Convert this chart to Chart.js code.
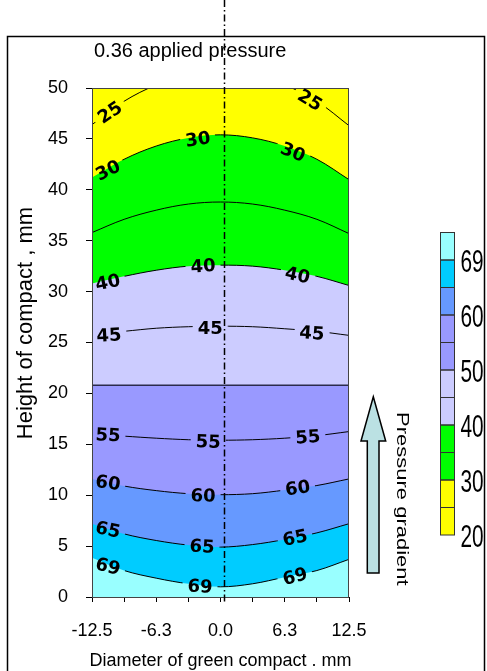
<!DOCTYPE html>
<html>
<head>
<meta charset="utf-8">
<script src="https://cdn.jsdelivr.net/npm/chart.js@4.4.1/dist/chart.umd.min.js"></script>
<style>
  html, body { margin: 0; padding: 0; background: #fff; }
  canvas { display: block; }
</style>
</head>
<body>
<canvas id="contourChart" width="487" height="671"></canvas>
<script>
// Sample positions across the compact diameter (mm)
const xSamples = [-12.5, -9.375, -6.25, -3.125, 0, 3.125, 6.25, 9.375, 12.5];

// Iso-pressure lines: height (mm) at each sample
const level69 = [3.85, 2.6, 1.85, 1.3, 1.0, 1.3, 1.95, 2.6, 3.7];
const level65 = [7.2, 6.2, 5.55, 5.1, 4.9, 5.15, 5.65, 6.3, 7.2];
const level60 = [11.6, 10.9, 10.45, 10.15, 10.05, 10.15, 10.5, 10.95, 11.6];
const level55 = [16.0, 15.8, 15.6, 15.45, 15.4, 15.45, 15.6, 15.85, 16.25];
const level50 = [20.8, 20.8, 20.8, 20.8, 20.8, 20.8, 20.8, 20.8, 20.8];
const level45 = [25.8, 26.1, 26.4, 26.55, 26.6, 26.55, 26.35, 26.1, 25.7];
const level40 = [30.8, 31.5, 32.1, 32.5, 32.6, 32.5, 32.1, 31.5, 30.6];
const level35 = [35.8, 37.1, 38.0, 38.6, 38.8, 38.6, 38.0, 37.1, 35.7];
const level30 = [41.2, 43.0, 44.3, 45.1, 45.4, 45.1, 44.3, 43.0, 41.0];
const level25 = [46.4, 48.7, 50.3, 51.3, 51.6, 51.3, 50.3, 48.7, 46.3];

const levelValues = [69, 65, 60, 55, 50, 45, 40, 35, 30, 25];
const levelLines = [level69, level65, level60, level55, level50, level45, level40, level35, level30, level25];
// colour of the band below each line (null = same band on both sides)
const bandColors = ['#99FFFF', '#00CCFF', '#6699FF', null, '#9999FF', null, '#CCCCFF', null, '#00FF00', null];
const topBandColor = '#FFFF00';

// Inline contour labels: text, x, y, angle (deg)
const contourLabels = [
    ['25', -10.75, 47.6, -34], ['25', 8.7, 48.8, 32],
    ['30', -10.95, 41.9, -26], ['30', -2.2, 44.95, -8], ['30', 7.05, 43.7, 22],
    ['40', -10.95, 30.9, -12], ['40', -1.7, 32.5, -4], ['40', 7.5, 31.6, 13],
    ['45', -10.85, 25.7, -3], ['45', -1.0, 26.4, 0], ['45', 8.9, 25.9, 4],
    ['55', -10.95, 15.9, 3], ['55', -1.2, 15.25, 2], ['55', 8.5, 15.7, -4],
    ['60', -10.95, 11.2, 8], ['60', -1.7, 9.95, 1], ['60', 7.5, 10.7, -8],
    ['65', -10.95, 6.6, 12], ['65', -1.8, 4.95, 3], ['65', 7.25, 5.8, -12],
    ['69', -10.95, 3.0, 14], ['69', -2.0, 1.03, 3], ['69', 7.25, 2.0, -15]
];

// Axis ticks
const xTicks = [-12.5, -9.375, -6.25, -3.125, 0, 3.125, 6.25, 9.375, 12.5];
const xTickLabels = ['-12.5', '', '-6.3', '', '0.0', '', '6.3', '', '12.5'];

// Colour bar
const barLevels = [20, 25, 30, 35, 40, 45, 50, 55, 60, 65, 69];
const barColors = ['#FFFF00', '#FFFF00', '#00FF00', '#00FF00', '#CCCCFF', '#CCCCFF', '#9999FF', '#9999FF', '#6699FF', '#00CCFF', '#99FFFF'];
const barTickLabels = ['20', '30', '40', '50', '60', '69'];

const FONT = '"Liberation Sans", Arial, sans-serif';

const datasets = levelValues.map((v, i) => ({
    label: String(v),
    level: v,
    data: xSamples.map((x, j) => ({ x: x, y: levelLines[i][j] })),
    borderColor: v === 50 ? '#2b2b4d' : '#000',
    borderWidth: v === 50 ? 1.5 : 1,
    backgroundColor: bandColors[i] || 'transparent',
    fill: bandColors[i] ? 'start' : false,
    tension: 0.35,
    pointRadius: 0
}));

const decor = {
    id: 'decor',
    beforeDraw(chart) {
        const { ctx, chartArea: a } = chart;
        ctx.save();
        ctx.fillStyle = topBandColor;
        ctx.fillRect(a.left, a.top, a.right - a.left, a.bottom - a.top);
        ctx.restore();
    },
    beforeDatasetDraw(chart, args) {
        const ds = chart.data.datasets[args.index];
        const ctx = chart.ctx;
        ctx.save();
        ctx.beginPath();
        ctx.rect(0, 0, chart.width, chart.height);
        ctx.font = 'bold 18px "DejaVu Sans", Verdana, sans-serif';
        contourLabels.filter(l => l[0] === String(ds.level)).forEach(l => {
            const px = chart.scales.x.getPixelForValue(l[1]);
            const py = chart.scales.y.getPixelForValue(l[2]);
            const w = ctx.measureText(l[0]).width / 2 + 5;
            const h = 9;
            const r = l[3] * Math.PI / 180;
            const c = Math.cos(r), s = Math.sin(r);
            const pts = [[-w, -h], [-w, h], [w, h], [w, -h]].map(p => [px + p[0] * c - p[1] * s, py + p[0] * s + p[1] * c]);
            ctx.moveTo(pts[0][0], pts[0][1]);
            pts.slice(1).forEach(p => ctx.lineTo(p[0], p[1]));
            ctx.closePath();
        });
        ctx.clip('evenodd');
    },
    afterDatasetDraw(chart) {
        chart.ctx.restore();
    },
    afterDatasetsDraw(chart) {
        const { ctx, chartArea: a, scales: { x, y } } = chart;
        ctx.save();
        // plot frame
        ctx.strokeStyle = '#444';
        ctx.lineWidth = 1;
        ctx.strokeRect(a.left + 0.5, a.top + 0.5, a.right - a.left - 1, a.bottom - a.top);
        // contour labels
        ctx.fillStyle = '#000';
        ctx.font = 'bold 18px "DejaVu Sans", Verdana, sans-serif';
        ctx.textAlign = 'center';
        ctx.textBaseline = 'middle';
        contourLabels.forEach(l => {
            ctx.save();
            ctx.translate(x.getPixelForValue(l[1]), y.getPixelForValue(l[2]));
            ctx.rotate(l[3] * Math.PI / 180);
            ctx.fillText(l[0], 0, 1);
            ctx.restore();
        });
        // centre line
        const cx = Math.round(x.getPixelForValue(0.35)) + 0.5;
        ctx.strokeStyle = '#000';
        ctx.lineWidth = 1.5;
        ctx.setLineDash([7, 3, 1.5, 3]);
        ctx.beginPath();
        ctx.moveTo(cx, 0);
        ctx.lineTo(cx, a.bottom + 5);
        ctx.stroke();
        ctx.restore();
    },
    afterDraw(chart) {
        const { ctx, chartArea: a } = chart;
        ctx.save();
        ctx.fillStyle = '#000';
        // title
        ctx.font = '20px ' + FONT;
        ctx.textAlign = 'left';
        ctx.textBaseline = 'alphabetic';
        ctx.fillText('0.36 applied pressure', 94, 57);
        // x title
        ctx.font = '18px ' + FONT;
        ctx.textAlign = 'center';
        ctx.fillText('Diameter of green compact . mm', (a.left + a.right) / 2, 666);
        // y title
        ctx.save();
        ctx.font = '22px ' + FONT;
        ctx.translate(32, 323);
        ctx.rotate(-Math.PI / 2);
        ctx.fillText('Height of compact , mm', 0, 0);
        ctx.restore();

        // colour bar
        const bx = 440, bw = 14, cellH = 27.5, bBottom = 535;
        barColors.forEach((c, i) => {
            ctx.fillStyle = c;
            ctx.fillRect(bx, bBottom - (i + 1) * cellH, bw, cellH);
        });
        ctx.strokeStyle = '#333';
        ctx.lineWidth = 1;
        barColors.forEach((c, i) => {
            ctx.strokeRect(bx + 0.5, bBottom - (i + 1) * cellH, bw, cellH);
        });
        ctx.fillStyle = '#000';
        ctx.font = '32px ' + FONT;
        ctx.textAlign = 'left';
        ctx.textBaseline = 'middle';
        barTickLabels.forEach(t => {
            const idx = barLevels.indexOf(Number(t));
            ctx.save();
            ctx.translate(460.5, bBottom - idx * cellH + 3);
            ctx.scale(0.65, 1);
            ctx.fillText(t, 0, 0);
            ctx.restore();
        });

        // pressure gradient arrow
        ctx.beginPath();
        ctx.moveTo(373.3, 396.7);
        ctx.lineTo(385.7, 441);
        ctx.lineTo(379, 441);
        ctx.lineTo(379, 573);
        ctx.lineTo(367.3, 573);
        ctx.lineTo(367.3, 441);
        ctx.lineTo(361, 441);
        ctx.closePath();
        ctx.fillStyle = '#BBE1E3';
        ctx.fill();
        ctx.strokeStyle = '#000';
        ctx.lineWidth = 1.5;
        ctx.stroke();
        ctx.save();
        ctx.fillStyle = '#000';
        ctx.font = '22px ' + FONT;
        ctx.textAlign = 'left';
        ctx.textBaseline = 'alphabetic';
        ctx.translate(397, 412);
        ctx.rotate(Math.PI / 2);
        ctx.scale(1, 0.72);
        ctx.fillText('Pressure gradient', 0, 0);
        ctx.restore();

        // outer frame
        ctx.strokeStyle = '#000';
        ctx.lineWidth = 1.5;
        ctx.strokeRect(7.5, 36.5, 477, 700);
        ctx.restore();
    }
};

new Chart(document.getElementById('contourChart'), {
    type: 'line',
    data: { datasets: datasets },
    options: {
        responsive: false,
        animation: false,
        devicePixelRatio: 1,
        layout: { padding: { left: 0, right: 138, top: 88, bottom: 0 } },
        plugins: {
            legend: { display: false },
            tooltip: { enabled: false },
            filler: { drawTime: 'beforeDatasetsDraw' }
        },
        scales: {
            x: {
                type: 'linear',
                min: -12.5,
                max: 12.5,
                afterBuildTicks: s => { s.ticks = xTicks.map(v => ({ value: v })); },
                afterFit: s => { s.height = 74; },
                grid: { drawOnChartArea: false, tickLength: 5, color: '#000' },
                border: { color: '#000' },
                ticks: {
                    autoSkip: false,
                    maxRotation: 0,
                    padding: 18,
                    color: '#000',
                    font: { family: FONT, size: 18 },
                    callback: v => xTickLabels[xTicks.indexOf(v)]
                }
            },
            y: {
                min: 0,
                max: 50,
                afterFit: s => { s.width = 92; },
                grid: { drawOnChartArea: false, tickLength: 6, color: '#000' },
                border: { color: '#333' },
                ticks: {
                    stepSize: 5,
                    padding: 18,
                    color: '#000',
                    font: { family: FONT, size: 18 }
                }
            }
        }
    },
    plugins: [decor]
});
</script>
</body>
</html>
